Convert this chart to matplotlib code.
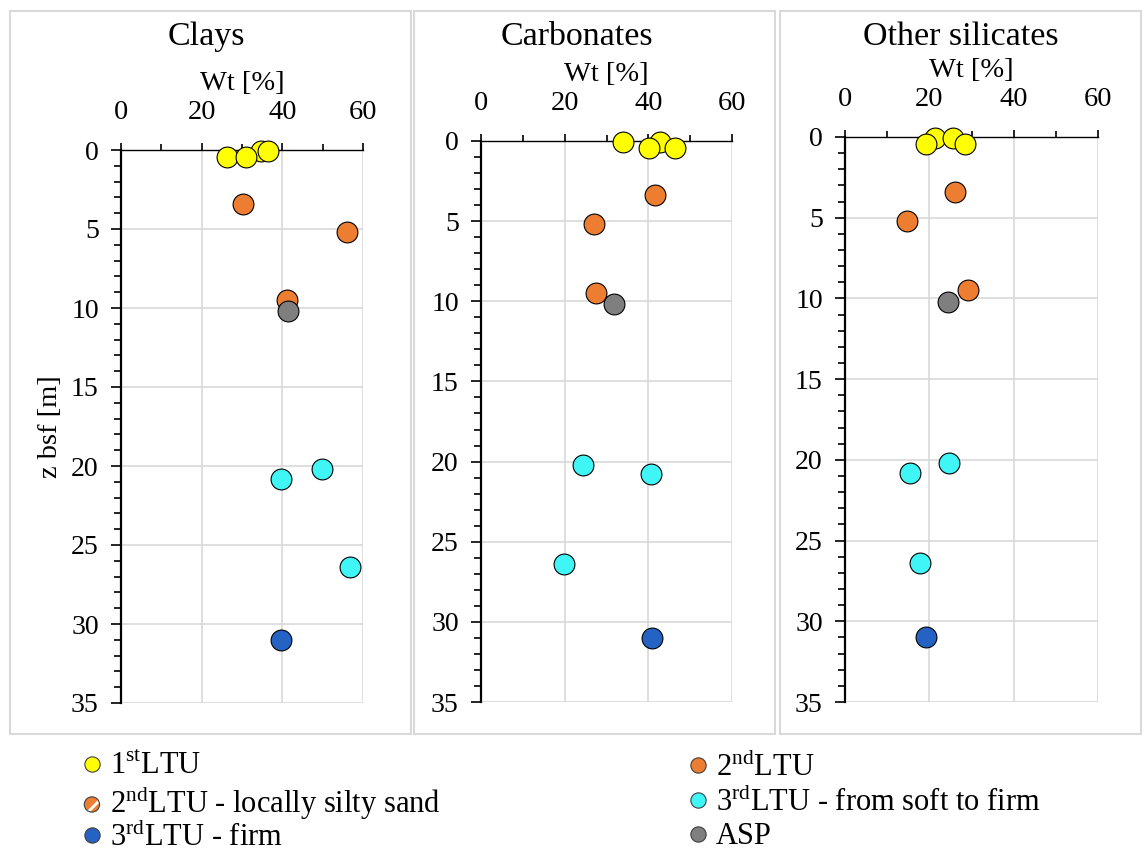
import matplotlib
matplotlib.use("Agg")
import matplotlib.pyplot as plt
from matplotlib.patches import Rectangle
from matplotlib.lines import Line2D
from matplotlib.legend_handler import HandlerTuple
import numpy as np

plt.rcParams['font.family'] = ['Liberation Serif', 'DejaVu Serif']
plt.rcParams['mathtext.fontset'] = 'custom'
plt.rcParams['mathtext.rm'] = 'Liberation Serif'
plt.rcParams['mathtext.bf'] = 'Liberation Serif:bold'
plt.rcParams['hatch.linewidth'] = 2.0

# ---- data (depth z bsf [m] and Wt [%] per panel)
panels = ["Clays", "Carbonates", "Other silicates"]

depth_ltu1 = [0.05, 0.05, 0.45, 0.45]
depth_ltu2 = [3.4, 5.2, 9.5]
depth_asp = [10.2]
depth_ltu3_soft = [20.2, 20.8, 26.4]
depth_ltu3_firm = [31.0]

clays_ltu1 = [34.7, 36.5, 26.4, 31.0]
clays_ltu2 = [30.3, 56.1, 41.2]
clays_asp = [41.4]
clays_ltu3_soft = [49.9, 39.7, 56.9]
clays_ltu3_firm = [39.7]

carb_ltu1 = [42.8, 34.0, 46.4, 40.2]
carb_ltu2 = [41.6, 26.9, 27.5]
carb_asp = [31.8]
carb_ltu3_soft = [24.3, 40.6, 19.8]
carb_ltu3_firm = [40.8]

sil_ltu1 = [21.3, 25.7, 19.2, 28.5]
sil_ltu2 = [26.1, 14.6, 29.2]
sil_asp = [24.5]
sil_ltu3_soft = [24.7, 15.3, 17.9]
sil_ltu3_firm = [19.2]

values = {
    "Clays": [clays_ltu1, clays_ltu2, clays_ltu3_soft, clays_ltu3_firm, clays_asp],
    "Carbonates": [carb_ltu1, carb_ltu2, carb_ltu3_soft, carb_ltu3_firm, carb_asp],
    "Other silicates": [sil_ltu1, sil_ltu2, sil_ltu3_soft, sil_ltu3_firm, sil_asp],
}
depths = [depth_ltu1, depth_ltu2, depth_ltu3_soft, depth_ltu3_firm, depth_asp]
colors = ["#FFFF00", "#ED7D31", "#3FF5F5", "#2463C4", "#7F7F7F"]

W, H = 1145, 856

def fx(px):
    return px / W

def fy(py):
    return 1 - py / H

fig = plt.figure(figsize=(W / 100, H / 100), dpi=100)

# axes boxes in pixels: (left, top, right, bottom)
ax_px = [(121, 150, 363, 703), (481, 141, 732, 702), (845, 137, 1098, 702)]
frame_px = [(10, 11, 411, 734), (414, 11, 775, 734), (780, 11, 1141, 734)]
title_x = [206, 577, 961]

grid_c = "#d9d9d9"

for i, name in enumerate(panels):
    fl, ft, fr, fb = frame_px[i]
    fig.add_artist(Rectangle((fx(fl), fy(fb)), fx(fr) - fx(fl), fy(ft) - fy(fb),
                             transform=fig.transFigure, fill=False,
                             edgecolor=grid_c, linewidth=1.5, zorder=0))
    l, t, r, b = ax_px[i]
    ax = fig.add_axes([fx(l), fy(b), fx(r) - fx(l), fy(t) - fy(b)])

    for d, v, c in zip(depths, values[name], colors):
        ax.scatter(v, d, s=225, facecolor=c, edgecolor="black", linewidth=0.8,
                   zorder=5, clip_on=False)

    ax.set_xlim(0, 60)
    ax.set_ylim(35, 0)
    ax.xaxis.tick_top()
    ax.xaxis.set_label_position("top")
    ax.set_xticks([0, 20, 40, 60])
    ax.set_xticks([10, 30, 50], minor=True)
    ax.set_yticks(np.arange(0, 36, 5))
    ax.set_yticks(np.arange(0, 36, 1), minor=True)
    ax.tick_params(axis="x", which="major", direction="out", length=5, width=1.2,
                   pad=13, labelsize=20.5)
    ax.tick_params(axis="x", which="minor", direction="out", length=4, width=1.2)
    ax.tick_params(axis="y", which="major", direction="out", length=7, width=1.2,
                   pad=9, labelsize=20)
    ax.tick_params(axis="y", which="minor", direction="out", length=5, width=1.2)
    ax.grid(True, which="major", color=grid_c, linewidth=1.2, zorder=0)
    ax.set_axisbelow(True)
    for s in ["right", "bottom"]:
        ax.spines[s].set_visible(False)
    ax.spines["left"].set_linewidth(1.6)
    ax.spines["top"].set_linewidth(1.0)
    ax.set_xlabel("Wt [%]", fontsize=20.5, labelpad=7)
    if i == 0:
        ax.set_ylabel("z bsf [m]", fontsize=20.5, labelpad=6)

    fig.text(fx(title_x[i]), fy(37), name, fontsize=24.5, ha="center", va="center")

# ---- legend (one entry per row so rows line up across the two columns)
def dot(c):
    return Line2D([], [], linestyle="none", marker="o", markersize=11,
                  markerfacecolor=c, markeredgecolor="#404040", markeredgewidth=0.8)

hatched = fig.axes[0].scatter([], [], s=121, marker="o", facecolor="#ED7D31",
                              edgecolor="white", hatch="//", linewidth=0)
outline = fig.axes[0].scatter([], [], s=121, marker="o", facecolor="none",
                              edgecolor="#404040", linewidth=0.8)

legend_handles = [dot(colors[0]), (hatched, outline), dot(colors[3]),
                  dot(colors[1]), dot(colors[2]), dot(colors[4])]
legend_labels = [r"1$^{\mathrm{st}}$LTU", r"2$^{\mathrm{nd}}$LTU - locally silty sand",
                 r"3$^{\mathrm{rd}}$LTU - firm", r"2$^{\mathrm{nd}}$LTU",
                 r"3$^{\mathrm{rd}}$LTU - from soft to firm", "ASP"]
legend_x = [82, 82, 82, 688, 688, 688]
legend_y = [767, 802, 837, 767, 802, 837]

for hnd, lab, lx, ly in zip(legend_handles, legend_labels, legend_x, legend_y):
    fig.legend([hnd], [lab], frameon=False, fontsize=22, handlelength=0.65,
               handletextpad=0.25, borderpad=0, borderaxespad=0, loc="center left",
               bbox_to_anchor=(fx(lx), fy(ly)),
               handler_map={tuple: HandlerTuple(ndivide=1)})

fig.savefig("out.png", dpi=100)
